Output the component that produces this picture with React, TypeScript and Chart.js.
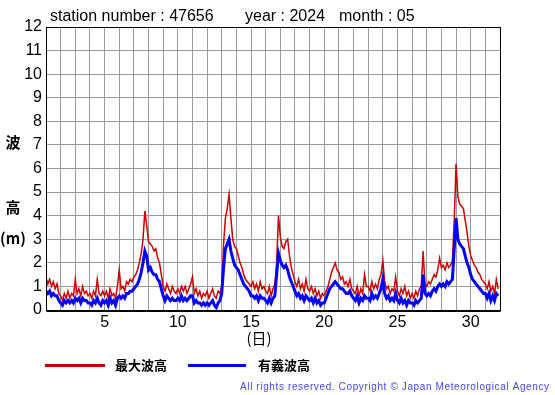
import React, { useEffect, useRef } from "react";
import { Chart, registerables } from "chart.js";

Chart.register(...registerables);

// Time step: 3 hours (8 samples per day), day 1 00h .. day 31 21h
const maxWave = [
  1.4, 1.1, 1.3, 1.0, 1.2, 0.9, 1.1, 0.7,
  0.6, 0.4, 0.7, 0.5, 0.8, 0.5, 0.7, 0.6,
  1.3, 0.7, 0.9, 0.6, 1.0, 0.7, 0.8, 0.6,
  0.7, 0.5, 0.8, 0.6, 1.3, 0.7, 0.6, 0.8,
  0.6, 0.8, 0.5, 0.9, 0.6, 0.7, 0.5, 1.0,
  1.7, 0.9, 1.0, 0.8, 1.2, 1.1, 1.3, 1.2,
  1.4, 1.5, 1.7, 2.0, 2.4, 3.0, 4.2, 3.6,
  2.9, 2.8, 2.7, 2.5, 2.6, 2.2, 2.0, 1.5,
  1.0, 0.8, 1.1, 0.9, 0.7, 1.0, 0.8, 0.7,
  0.9, 0.7, 1.0, 0.8, 1.0, 0.7, 0.9, 1.1,
  1.4, 0.7, 0.9, 0.6, 0.8, 0.5, 0.7, 0.6,
  0.8, 0.5, 0.7, 0.9, 0.6, 0.5, 0.8, 0.7,
  1.0, 2.8, 3.9, 4.3, 4.9, 3.9, 3.0, 2.7,
  2.6, 2.3, 2.0, 1.8, 1.5, 1.3, 1.2, 1.1,
  1.0, 1.2, 0.9, 1.1, 0.8, 1.2, 0.9, 1.0,
  0.8, 0.7, 1.0, 0.6, 0.9, 1.1, 2.0, 4.0,
  3.1, 2.7, 2.6, 2.9, 3.0, 2.3, 1.8, 1.5,
  1.2, 1.0, 1.3, 0.9, 1.1, 0.8, 1.3, 0.9,
  0.8, 1.0, 0.7, 0.9, 0.6, 0.8, 0.5, 0.7,
  0.6, 0.8, 1.0, 1.3, 1.6, 1.8, 2.0, 1.7,
  1.6, 1.3, 1.4, 1.1, 1.2, 1.0, 1.3, 0.9,
  0.8, 0.7, 1.0, 0.6, 0.9, 0.7, 1.5, 1.0,
  1.0, 0.8, 1.2, 0.9, 1.1, 0.9, 1.3, 1.5,
  2.1, 1.2, 0.9, 1.0, 0.7, 0.9, 0.8, 1.4,
  0.8, 0.6, 0.9, 0.7, 1.0, 0.6, 0.8, 0.5,
  0.7, 0.5, 0.8, 0.6, 0.9, 1.0, 2.5, 1.1,
  1.0, 1.2, 1.1, 1.3, 1.5, 1.4, 1.7, 2.2,
  1.8, 1.9, 1.7, 2.0, 1.8, 1.9, 2.1, 3.8,
  6.2, 4.8, 4.5, 4.4, 4.3, 3.8, 3.3, 2.7,
  2.3, 2.1, 1.9, 1.8, 1.6, 1.5, 1.3, 1.2,
  1.1, 0.9, 1.2, 0.8, 1.0, 0.7, 1.3, 0.9,
];

const sigWave = [
  0.8, 0.7, 0.8, 0.6, 0.7, 0.6, 0.6, 0.4,
  0.3, 0.2, 0.4, 0.3, 0.4, 0.3, 0.4, 0.3,
  0.5, 0.4, 0.5, 0.3, 0.5, 0.4, 0.4, 0.3,
  0.3, 0.2, 0.4, 0.3, 0.5, 0.3, 0.2, 0.4,
  0.3, 0.4, 0.2, 0.5, 0.3, 0.4, 0.2, 0.5,
  0.6, 0.5, 0.6, 0.5, 0.7, 0.7, 0.8, 0.8,
  0.9, 1.0, 1.1, 1.3, 1.6, 2.0, 2.5, 2.3,
  1.7, 1.8, 1.6, 1.5, 1.5, 1.3, 1.2, 0.9,
  0.6, 0.4, 0.6, 0.5, 0.4, 0.5, 0.4, 0.4,
  0.5, 0.4, 0.6, 0.4, 0.5, 0.4, 0.5, 0.6,
  0.6, 0.3, 0.4, 0.3, 0.3, 0.2, 0.3, 0.2,
  0.3, 0.2, 0.3, 0.4, 0.2, 0.1, 0.3, 0.4,
  0.7, 1.8, 2.6, 2.8, 3.0, 2.5, 2.2, 1.9,
  1.8, 1.7, 1.5, 1.3, 1.1, 1.0, 0.9, 0.8,
  0.6, 0.6, 0.5, 0.6, 0.4, 0.6, 0.5, 0.5,
  0.4, 0.3, 0.5, 0.3, 0.5, 0.6, 1.5, 2.4,
  2.1, 1.9, 1.8, 1.9, 1.7, 1.4, 1.2, 1.0,
  0.8, 0.6, 0.7, 0.5, 0.6, 0.4, 0.6, 0.5,
  0.4, 0.5, 0.3, 0.5, 0.3, 0.4, 0.2, 0.3,
  0.3, 0.5, 0.7, 0.9, 1.0, 1.1, 1.2, 1.1,
  1.0, 0.9, 0.9, 0.8, 0.7, 0.7, 0.8, 0.6,
  0.5, 0.4, 0.6, 0.3, 0.5, 0.4, 0.6, 0.5,
  0.5, 0.4, 0.7, 0.5, 0.6, 0.5, 0.7, 0.9,
  1.3, 0.7, 0.5, 0.6, 0.4, 0.5, 0.4, 0.7,
  0.4, 0.3, 0.5, 0.3, 0.4, 0.2, 0.4, 0.3,
  0.3, 0.2, 0.4, 0.3, 0.4, 0.5, 1.5, 0.7,
  0.6, 0.7, 0.6, 0.8, 0.9, 0.8, 1.0, 1.1,
  1.0, 1.1, 1.0, 1.2, 1.1, 1.2, 1.3, 2.6,
  3.9, 3.0, 2.8, 2.7, 2.6, 2.3, 2.0, 1.8,
  1.5, 1.3, 1.2, 1.1, 1.0, 0.9, 0.8, 0.7,
  0.7, 0.5, 0.7, 0.4, 0.6, 0.4, 0.7, 0.6,
];

const samplesPerDay = 8;
const dayStart = 1;
const dayEnd = 32;
const yMin = 0;
const yMax = 12;

const titleParts = ["station number : 47656", "year : 2024", "month : 05"];
const yTitleChars = ["波", "高", "(m)"];
const xTitle = "(日)";
const seriesNames = ["最大波高", "有義波高"];
const copyright = "All rights reserved. Copyright © Japan Meteorological Agency";

const RED = "#cc0000";
const BLUE = "#0000ff";

const toPoints = (arr: number[]) =>
  arr.map((v, i) => ({ x: dayStart + i / samplesPerDay, y: v }));

const decorPlugin = {
  id: "decor",
  afterDraw(chart: any) {
    const ctx = chart.ctx as CanvasRenderingContext2D;
    const a = chart.chartArea;
    ctx.save();
    // plot frame
    ctx.strokeStyle = "#000";
    ctx.lineWidth = 1;
    const l = Math.round(a.left) + 0.5;
    const t = Math.round(a.top) + 0.5;
    const r = Math.round(a.right) + 0.5;
    const b = Math.round(a.bottom) + 0.5;
    ctx.strokeRect(l, t, r - l, b - t);
    ctx.beginPath();
    ctx.moveTo(l, b + 1);
    ctx.lineTo(r, b + 1);
    ctx.stroke();

    // title
    ctx.fillStyle = "#000";
    ctx.textBaseline = "alphabetic";
    ctx.textAlign = "left";
    ctx.font = '16px "Liberation Sans", Arial, sans-serif';
    ctx.fillText(titleParts[0], 50, 21);
    ctx.fillText(titleParts[1], 245, 21);
    ctx.fillText(titleParts[2], 339, 21);

    // y title (stacked)
    ctx.textAlign = "center";
    ctx.textBaseline = "middle";
    ctx.font = 'bold 15px "Noto Sans CJK JP", sans-serif';
    ctx.fillText(yTitleChars[0], 13, 142);
    ctx.fillText(yTitleChars[1], 13, 207);
    ctx.font = 'bold 15px "Noto Sans CJK JP", sans-serif';
    ctx.fillText(yTitleChars[2], 13, 238);

    // x title
    ctx.font = '15px "Noto Sans CJK JP", sans-serif';
    ctx.fillText(xTitle, 259, 338);

    // legend
    ctx.lineWidth = 3;
    ctx.strokeStyle = RED;
    ctx.beginPath();
    ctx.moveTo(45, 365.5);
    ctx.lineTo(105, 365.5);
    ctx.stroke();
    ctx.strokeStyle = BLUE;
    ctx.beginPath();
    ctx.moveTo(188, 365.5);
    ctx.lineTo(246, 365.5);
    ctx.stroke();
    ctx.fillStyle = "#000";
    ctx.textAlign = "left";
    ctx.font = 'bold 13px "Noto Sans CJK JP", sans-serif';
    ctx.fillText(seriesNames[0], 115, 365);
    ctx.fillText(seriesNames[1], 258, 365);

    // copyright
    ctx.fillStyle = "#4646ff";
    ctx.font = '10px "Liberation Sans", Arial, sans-serif';
    ctx.textAlign = "left";
    const natural = ctx.measureText(copyright).width;
    const target = 309;
    const ls = (target - natural) / (copyright.length - 1);
    (ctx as any).letterSpacing = ls.toFixed(2) + "px";
    ctx.fillText(copyright, 240, 387);
    (ctx as any).letterSpacing = "0px";
    ctx.restore();
  },
};

export default function App() {
  const ref = useRef<HTMLCanvasElement | null>(null);
  useEffect(() => {
    if (!ref.current) return;
    const chart = new Chart(ref.current, {
      type: "line",
      data: {
        datasets: [
          {
            label: seriesNames[0],
            data: toPoints(maxWave),
            borderColor: RED,
            borderWidth: 1.5,
            pointRadius: 0,
            tension: 0,
            order: 1,
          },
          {
            label: seriesNames[1],
            data: toPoints(sigWave),
            borderColor: BLUE,
            borderWidth: 3,
            pointRadius: 0,
            tension: 0,
            order: 0,
          },
        ],
      },
      options: {
        responsive: false,
        animation: false,
        events: [],
        layout: { padding: { left: 0, right: 55, top: 27, bottom: 0 } },
        plugins: {
          legend: { display: false },
          tooltip: { enabled: false },
          title: { display: false },
        },
        scales: {
          x: {
            type: "linear",
            min: dayStart,
            max: dayEnd,
            afterFit: (s: any) => {
              s.height = 85;
            },
            grid: { color: "#9a9a9a", lineWidth: 1, drawTicks: false },
            border: { color: "#000", width: 1 },
            ticks: {
              stepSize: 1,
              autoSkip: false,
              maxRotation: 0,
              padding: 3,
              color: "#000",
              font: { family: '"Liberation Sans", Arial, sans-serif', size: 16 },
              callback: (v: any) => (Number(v) % 5 === 0 ? String(v) : ""),
            },
          },
          y: {
            min: yMin,
            max: yMax,
            afterFit: (s: any) => {
              s.width = 46;
            },
            grid: { color: "#9a9a9a", lineWidth: 1, drawTicks: false },
            border: { color: "#000", width: 1 },
            ticks: {
              stepSize: 1,
              padding: 4,
              color: "#000",
              font: { family: '"Liberation Sans", Arial, sans-serif', size: 16 },
            },
          },
        },
      },
      plugins: [decorPlugin],
    });
    return () => chart.destroy();
  }, []);
  return (
    <div style={{ position: "absolute", left: 0, top: 0, width: 555, height: 395, background: "#fff" }}>
      <canvas ref={ref} width={555} height={395} style={{ width: 555, height: 395 }} />
    </div>
  );
}
